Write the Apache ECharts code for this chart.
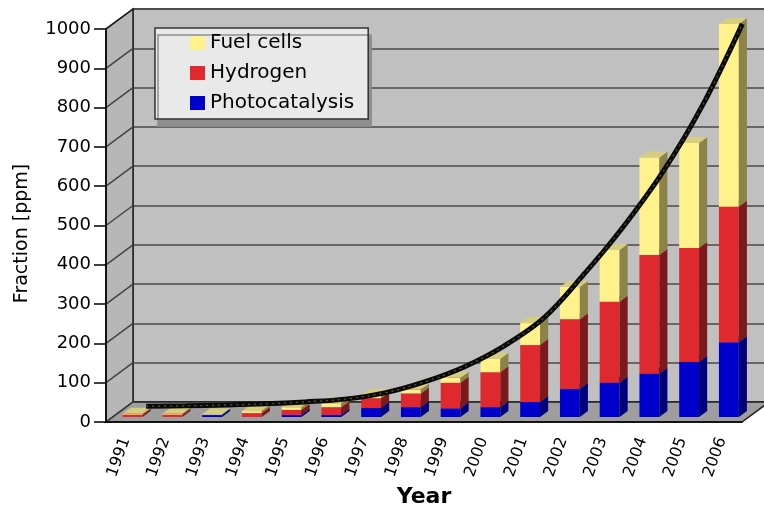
<!DOCTYPE html>
<html>
<head>
<meta charset="utf-8">
<script src="https://cdn.jsdelivr.net/npm/echarts@6/dist/echarts.min.js"></script>
<style>
  html, body { margin: 0; padding: 0; background: #ffffff; }
  #chart { width: 764px; height: 506px; }
</style>
</head>
<body>
<div id="chart"></div>
<script>
// Publication share per year, stacked by topic (ppm)
const years = ['1991', '1992', '1993', '1994', '1995', '1996', '1997', '1998',
               '1999', '2000', '2001', '2002', '2003', '2004', '2005', '2006'];
const photocatalysis = [0, 0, 5, 0, 5, 5, 23, 25, 22, 25, 38, 71, 87, 110, 140, 190];
const hydrogen       = [6, 6, 0, 10, 13, 20, 25, 35, 65, 89, 145, 178, 206, 302, 290, 345];
const fuelCells      = [2, 2, 2, 5, 7, 10, 8, 10, 13, 34, 56, 82, 132, 248, 267, 465];
// Fitted growth curve drawn over the columns
const trend = [2, 3, 5, 8, 13, 20, 36, 64, 102, 155, 226, 336, 458, 598, 768, 975];
// Value-axis ticks
const yTicks = [0, 100, 200, 300, 400, 500, 600, 700, 800, 900, 1000];

// Oblique depth of the 3D box (pixels from front plane to back wall)
const DEPTH_X = 27;
const DEPTH_Y = 20;
// Column placement inside the depth (fractions of the full depth)
const COL_FRONT = 0.25;
const COL_DEPTH = 0.30;
const LINE_DEPTH = 0.75;

const FONT = 'DejaVu Sans';

const PLOT = { left: 106, top: 29, width: 636, height: 393 };

const palette = {
  fuel:  { front: '#fff28c', side: '#8c8348', top: '#d6cd80' },
  hydro: { front: '#e0282f', side: '#7a1a1c', top: '#b01f26' },
  photo: { front: '#0000cc', side: '#00007a', top: '#0000a6' }
};

// Cumulative stacking of the three series
const layers = [
  { name: 'Photocatalysis', values: photocatalysis, colors: palette.photo },
  { name: 'Hydrogen',       values: hydrogen,       colors: palette.hydro },
  { name: 'Fuel cells',     values: fuelCells,      colors: palette.fuel }
];
const running = years.map(() => 0);
layers.forEach(layer => {
  layer.data = years.map((y, i) => {
    const lo = running[i];
    const hi = lo + layer.values[i];
    running[i] = hi;
    return [i, lo, hi];
  });
});

function columnRenderer(colors) {
  return function (params, api) {
    const i = api.value(0);
    const lo = api.value(1);
    const hi = api.value(2);
    if (hi <= lo) return null;
    const w = api.size([1, 0])[0] * 0.5;
    const pLo = api.coord([i, lo]);
    const pHi = api.coord([i, hi]);
    const ox = DEPTH_X * COL_FRONT, oy = -DEPTH_Y * COL_FRONT;
    const dx = DEPTH_X * COL_DEPTH, dy = -DEPTH_Y * COL_DEPTH;
    const x0 = pLo[0] - w / 2 + ox;
    const x1 = x0 + w;
    const yb = pLo[1] + oy;
    const yt = pHi[1] + oy;
    return {
      type: 'group',
      children: [
        { type: 'rect', shape: { x: x0, y: yt, width: w, height: yb - yt },
          style: { fill: colors.front } },
        { type: 'polygon',
          shape: { points: [[x1, yb], [x1 + dx, yb + dy], [x1 + dx, yt + dy], [x1, yt]] },
          style: { fill: colors.side } },
        { type: 'polygon',
          shape: { points: [[x0, yt], [x1, yt], [x1 + dx, yt + dy], [x0 + dx, yt + dy]] },
          style: { fill: colors.top } }
      ]
    };
  };
}

// Side wall, floor and the side-wall grid diagonals
function boxRenderer(params, api) {
  const cs = params.coordSys;
  const left = cs.x, right = cs.x + cs.width;
  const bottom = cs.y + cs.height, top = cs.y;
  const children = [
    { type: 'polygon',
      shape: { points: [[left, bottom], [left, top], [left + DEPTH_X, top - DEPTH_Y], [left + DEPTH_X, bottom - DEPTH_Y]] },
      style: { fill: '#b7b7b7', stroke: '#222', lineWidth: 1.5 } },
    { type: 'polygon',
      shape: { points: [[left, bottom], [right, bottom], [right + DEPTH_X, bottom - DEPTH_Y], [left + DEPTH_X, bottom - DEPTH_Y]] },
      style: { fill: '#9e9e9e', stroke: '#222', lineWidth: 1.5 } }
  ];
  yTicks.forEach(v => {
    const y = api.coord([0, v])[1];
    children.push({ type: 'line',
      shape: { x1: left, y1: y, x2: left + DEPTH_X, y2: y - DEPTH_Y },
      style: { stroke: v === yTicks[yTicks.length - 1] ? '#222' : '#444', lineWidth: 1.5 } });
  });
  return { type: 'group', children };
}

const yMin = yTicks[0];
const yMax = yTicks[yTicks.length - 1];
const yStep = yTicks[1] - yTicks[0];

const chart = echarts.init(document.getElementById('chart'), null, { renderer: 'canvas' });

chart.setOption({
  animation: false,
  backgroundColor: '#ffffff',
  grid: [
    // front plane
    { left: PLOT.left, top: PLOT.top, width: PLOT.width, height: PLOT.height,
      outerBoundsMode: 'none', containLabel: false },
    // back wall
    { left: PLOT.left + DEPTH_X, top: PLOT.top - DEPTH_Y, width: PLOT.width, height: PLOT.height,
      outerBoundsMode: 'none', containLabel: false,
      show: true, backgroundColor: '#c0c0c0', borderColor: '#222', borderWidth: 1.5 },
    // plane of the trend curve
    { left: PLOT.left + DEPTH_X * LINE_DEPTH, top: PLOT.top - DEPTH_Y * LINE_DEPTH,
      width: PLOT.width, height: PLOT.height, outerBoundsMode: 'none', containLabel: false }
  ],
  legend: {
    data: ['Fuel cells', 'Hydrogen', 'Photocatalysis'],
    orient: 'vertical',
    left: 155, top: 28,
    padding: [5, 14, 6, 35],
    itemWidth: 15, itemHeight: 14, itemGap: 10,
    icon: 'rect',
    backgroundColor: '#e9e9e9',
    borderColor: '#333', borderWidth: 1.5,
    shadowColor: '#8e8e8e', shadowOffsetX: 3, shadowOffsetY: 7, shadowBlur: 0,
    textStyle: { fontFamily: FONT, fontSize: 20, color: '#000' },
    selectedMode: false
  },
  xAxis: [
    { type: 'category', gridIndex: 0, data: years, z: 6,
      axisLine: { lineStyle: { color: '#000', width: 1.5 } },
      axisTick: { length: 7, lineStyle: { color: '#000', width: 1.5 } },
      axisLabel: { rotate: 70, margin: 16, fontFamily: FONT, fontSize: 16, color: '#000' },
      name: 'Year', nameLocation: 'middle', nameGap: 62,
      nameTextStyle: { fontFamily: FONT, fontSize: 22, fontWeight: 'bold', color: '#000' } },
    { type: 'category', gridIndex: 1, data: years, show: false },
    { type: 'category', gridIndex: 2, data: years, show: false }
  ],
  yAxis: [
    { type: 'value', gridIndex: 0, min: yMin, max: yMax, interval: yStep, z: 6,
      axisLine: { show: true, lineStyle: { color: '#000', width: 1.5 } },
      axisTick: { show: true, length: 12, lineStyle: { color: '#000', width: 1.5 } },
      axisLabel: { margin: 15, fontFamily: FONT, fontSize: 18, color: '#000',
                   formatter: v => String(v) },
      splitLine: { show: false },
      name: 'Fraction [ppm]', nameLocation: 'middle', nameGap: 74,
      nameTextStyle: { fontFamily: FONT, fontSize: 19, color: '#000', padding: [0, 0, 0, -16] } },
    { type: 'value', gridIndex: 1, min: yMin, max: yMax, interval: yStep,
      axisLine: { show: false }, axisTick: { show: false }, axisLabel: { show: false },
      splitLine: { show: true, lineStyle: { color: '#4a4a4a', width: 1.5 } } },
    { type: 'value', gridIndex: 2, min: yMin, max: yMax, interval: yStep, show: false,
      splitLine: { show: false } }
  ],
  series: [
    { type: 'custom', name: 'box', xAxisIndex: 0, yAxisIndex: 0, z: 1, silent: true,
      renderItem: boxRenderer, data: [[0, 0]] },
    ...layers.map(layer => ({
      type: 'custom', name: layer.name, xAxisIndex: 0, yAxisIndex: 0, z: 3, silent: true,
      itemStyle: { color: layer.colors.front },
      encode: { x: 0, y: [1, 2] },
      renderItem: columnRenderer(layer.colors),
      data: layer.data
    })),
    { type: 'line', name: 'trend', xAxisIndex: 2, yAxisIndex: 2, z: 4, silent: true,
      data: trend, smooth: 0.35, symbol: 'none',
      lineStyle: { color: '#0a0a0a', width: 5 } },
    { type: 'line', name: 'trend texture', xAxisIndex: 2, yAxisIndex: 2, z: 5, silent: true,
      data: trend, smooth: 0.35, symbol: 'none',
      lineStyle: { color: '#5e5a3a', width: 1.2, type: [2, 4] } }
  ]
});
</script>
</body>
</html>
